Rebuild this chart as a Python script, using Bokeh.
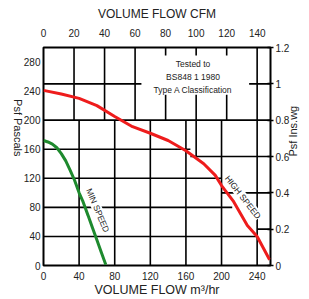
import math
from bokeh.plotting import figure
from bokeh.models import Range1d, LinearAxis, FixedTicker
from bokeh.core.properties import value
from bokeh.embed import file_html
from bokeh.resources import INLINE

# ---------------- data ----------------
m3_ticks = [0, 40, 80, 120, 160, 200, 240]
cfm_ticks = [0, 20, 40, 60, 80, 100, 120, 140]
pa_ticks = [0, 40, 80, 120, 160, 200, 240, 280]
wg_ticks = [0, 0.2, 0.4, 0.6, 0.8, 1.0, 1.2]
wg_labels = ["0", "0.2", "0.4", "0.6", "0.8", "1", "1.2"]

high_flow = [0, 20, 40, 60, 80, 100, 120, 140, 160, 180, 193, 200, 213, 229, 240, 254]
high_pa = [241, 236, 230, 220, 205, 191, 182, 172, 158, 140, 124, 110, 89, 55, 40, 8]

min_flow = [0, 5, 10, 15, 20, 25, 30, 35, 40, 44, 50, 55, 60, 65, 70]
min_pa = [172, 170, 167, 162, 154, 144, 131, 117, 100, 89, 69, 52, 35, 18, 1]

note_text = "Tested to\nBS848 1 1980\nType A Classification"

# ---------------- figure ----------------
FONT = "Liberation Sans"
INK = "#222222"

p = figure(width=309, height=299, x_range=Range1d(0, 255), y_range=Range1d(0, 300),
           output_backend="svg", toolbar_location=None,
           min_border_left=43, min_border_right=39, min_border_top=47, min_border_bottom=34,
           background_fill_color="white", border_fill_color="white")
p.extra_x_ranges = {"cfm": Range1d(0, 148.7)}
p.extra_y_ranges = {"wg": Range1d(0, 1.2)}
p.xgrid.visible = False
p.ygrid.visible = False
p.outline_line_color = "black"
p.outline_line_width = 2

top = LinearAxis(x_range_name="cfm")
right = LinearAxis(y_range_name="wg")
p.add_layout(top, "above")
p.add_layout(right, "right")

bottom = p.below[0]
left = p.left[0]

bottom.ticker = FixedTicker(ticks=m3_ticks)
top.ticker = FixedTicker(ticks=cfm_ticks)
left.ticker = FixedTicker(ticks=pa_ticks)
right.ticker = FixedTicker(ticks=wg_ticks)
right.major_label_overrides = {t: l for t, l in zip(wg_ticks, wg_labels)}

bottom.axis_label = "VOLUME FLOW m³/hr"
top.axis_label = "VOLUME FLOW CFM"
left.axis_label = "Psf Pascals"
right.axis_label = "Psf Ins.wg"

for ax in (bottom, top, left, right):
    ax.axis_line_color = None
    ax.minor_tick_line_color = None
    ax.major_tick_line_color = "black"
    ax.major_tick_line_width = 1.5
    ax.major_tick_in = 0
    ax.major_tick_out = 0
    ax.major_label_text_font = FONT
    ax.major_label_text_font_size = "10px"
    ax.major_label_text_color = INK
    ax.axis_label_text_font = FONT
    ax.axis_label_text_font_style = "normal"
    ax.axis_label_text_color = INK

right.major_tick_in = 3
right.major_tick_out = 3
bottom.major_label_standoff = 6
bottom.axis_label_standoff = 0
bottom.axis_label_text_font_size = "12.5px"
top.major_label_standoff = 11
top.axis_label_standoff = 5
top.axis_label_text_font_size = "12px"
left.major_label_standoff = 3
left.axis_label_standoff = 3
left.axis_label_text_font_size = "11px"
left.axis_label_orientation = -math.pi / 2
right.major_label_standoff = 2
right.axis_label_standoff = 1
right.axis_label_text_font_size = "11px"
right.axis_label_orientation = math.pi / 2

# ---------------- grid (drawn from the tick values) ----------------
GL = dict(line_color="black", line_width=1.6)
# m3/hr verticals in the lower region
low_v = [t for t in m3_ticks if 0 < t < 240]
p.segment(x0=low_v, y0=[0] * len(low_v), x1=low_v, y1=[200] * len(low_v), **GL)
p.segment(x0=[240], y0=[0], x1=[240], y1=[300], **GL)
# CFM verticals in the upper region
up_v = [20, 40, 60]
p.segment(x0=up_v, y0=[200] * 3, x1=up_v, y1=[300] * 3, x_range_name="cfm", **GL)
short_v = [80, 100, 120]
p.segment(x0=short_v, y0=[289] * 3, x1=short_v, y1=[300] * 3, x_range_name="cfm", **GL)
p.segment(x0=short_v, y0=[200, 150, 200], x1=short_v, y1=[235] * 3, x_range_name="cfm", **GL)
# Pascal horizontals (left-hand grid)
pa_lines = [40, 80, 120, 160, 200]
pa_ends = [240, 212, 200, 165, 255]
p.segment(x0=[0] * 5, y0=pa_lines, x1=pa_ends, y1=pa_lines, **GL)
p.segment(x0=[0], y0=[250], x1=[110], y1=[250], **GL)
# in.wg horizontals (right-hand grid)
wg_lines = [0.2, 0.4, 0.6, 1.0]
wg_starts = [240, 200, 165, 231]
p.segment(x0=wg_starts, y0=wg_lines, x1=[255] * 4, y1=wg_lines, y_range_name="wg", **GL)

# ---------------- curves ----------------
p.line(high_flow, high_pa, line_color="#ee1c1c", line_width=3)
p.line(min_flow, min_pa, line_color="#1e8a2e", line_width=3)

p.text(x=[224], y=[94], text=["HIGH SPEED"], angle=-52, angle_units="deg",
       text_font=value(FONT), text_font_size="8.5px", text_color=INK,
       text_align="center", text_baseline="middle", background_fill_color="white")
p.text(x=[61], y=[76], text=["MIN SPEED"], angle=-67, angle_units="deg",
       text_font=value(FONT), text_font_size="8.5px", text_color=INK,
       text_align="center", text_baseline="middle", background_fill_color="white")
p.text(x=[168], y=[259], text=[note_text], text_font=value(FONT), text_font_size="8.5px",
       text_color=INK, text_align="center", text_baseline="middle", text_line_height=1.3)

open("out.html", "w").write(file_html(p, INLINE))
